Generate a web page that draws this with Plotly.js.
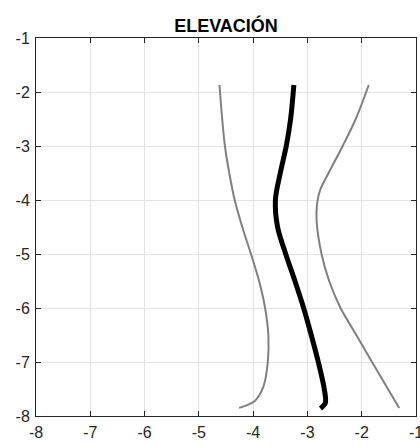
<!DOCTYPE html>
<html>
<head>
<meta charset="utf-8">
<script src="https://cdn.plot.ly/plotly-3.0.1.min.js"></script>
<style>html,body{margin:0;padding:0;background:#fff;}#chart{width:420px;height:445px;}</style>
</head>
<body>
<div id="chart"></div>
<script>
// Depth (elevation) levels and horizontal positions for each curve
const centerX = [-3.25, -3.31, -3.39, -3.50, -3.59, -3.55, -3.40, -3.23, -3.07, -2.93, -2.80, -2.69, -2.67, -2.76];
const centerY = [-1.87, -2.50, -3.00, -3.50, -4.00, -4.50, -5.00, -5.50, -6.00, -6.50, -7.00, -7.50, -7.76, -7.86];

const leftX = [-4.62, -4.57, -4.52, -4.44, -4.34, -4.20, -4.04, -3.89, -3.78, -3.72, -3.73, -3.81, -3.97, -4.26];
const leftY = [-1.87, -2.50, -3.00, -3.50, -4.00, -4.50, -5.00, -5.50, -6.00, -6.50, -7.00, -7.45, -7.72, -7.85];

const rightX = [-1.87, -2.11, -2.35, -2.61, -2.76, -2.82, -2.83, -2.74, -2.60, -2.39, -2.10, -1.81, -1.31];
const rightY = [-1.87, -2.50, -3.00, -3.50, -3.80, -4.05, -4.40, -5.00, -5.50, -6.00, -6.50, -7.00, -7.85];

const xTicks = [-8, -7, -6, -5, -4, -3, -2, -1];
const yTicks = [-8, -7, -6, -5, -4, -3, -2, -1];
const titleText = "ELEVACIÓN";

const gray = "#808080";
const traces = [
  {x: leftX, y: leftY, mode: "lines", line: {color: gray, width: 2, shape: "spline", smoothing: 0.9}, hoverinfo: "skip"},
  {x: rightX, y: rightY, mode: "lines", line: {color: gray, width: 2, shape: "spline", smoothing: 0.9}, hoverinfo: "skip"},
  {x: centerX, y: centerY, mode: "lines", line: {color: "#000000", width: 5, shape: "spline", smoothing: 0.9}, hoverinfo: "skip"}
];

const axisCommon = {
  showgrid: true, gridcolor: "#e3e3e3", gridwidth: 1,
  zeroline: false, showline: true, linecolor: "#262626", linewidth: 1, mirror: "ticks",
  ticks: "inside", ticklen: 5, tickwidth: 1, tickcolor: "#262626",
  tickfont: {family: "Liberation Sans, Arial, sans-serif", size: 16, color: "#262626"},
  ticklabeloverflow: "allow",
  fixedrange: true
};

const layout = {
  width: 420, height: 445,
  margin: {l: 36, r: 4, t: 38, b: 29},
  paper_bgcolor: "#ffffff", plot_bgcolor: "#ffffff",
  showlegend: false,
  title: {text: titleText, font: {family: "Liberation Sans, Arial, sans-serif", size: 18, color: "#000000", weight: "bold"},
          x: 0.5, xref: "paper", xanchor: "center", y: 1, yref: "paper", yanchor: "bottom", pad: {b: 6}},
  xaxis: Object.assign({}, axisCommon, {range: [-8, -1], tickvals: xTicks, ticktext: xTicks.map(String), ticklabelstandoff: 2}),
  yaxis: Object.assign({}, axisCommon, {range: [-8, -1], tickvals: yTicks, ticktext: yTicks.map(String), ticklabelstandoff: 2})
};

Plotly.newPlot("chart", traces, layout, {displayModeBar: false, staticPlot: true});
</script>
</body>
</html>
